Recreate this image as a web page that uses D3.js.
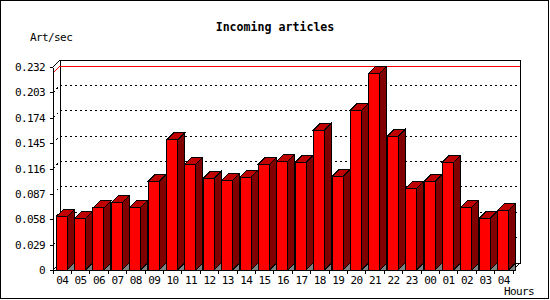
<!DOCTYPE html>
<html>
<head>
<meta charset="utf-8">
<script src="https://cdnjs.cloudflare.com/ajax/libs/d3/7.8.5/d3.min.js"></script>
<style>
  body { margin: 0; background: #fff; }
  svg text { font-family: "DejaVu Sans Mono", "Liberation Mono", monospace; fill: #000; }
</style>
</head>
<body>
<div id="chart"></div>
<script>
////////////////////////////////////////////////////////////////
// Data

var hours = ["04", "05", "06", "07", "08", "09", "10", "11", "12", "13", "14", "15",
    "16", "17", "18", "19", "20", "21", "22", "23", "00", "01", "02", "03", "04"];
var artPerSec = [0.0606, 0.0590, 0.0709, 0.0766, 0.0716, 0.1013, 0.1486, 0.1208, 0.1048,
    0.1025, 0.1060, 0.1208, 0.1242, 0.1231, 0.1600, 0.1070, 0.1825, 0.2248, 0.1528,
    0.0934, 0.1013, 0.1231, 0.0716, 0.0590, 0.0682];
var yTicks = [0, 0.029, 0.058, 0.087, 0.116, 0.145, 0.174, 0.203, 0.232];

////////////////////////////////////////////////////////////////
// Basic parameters

var svgWidth = 550;
var svgHeight = 300;
var plot = { left: 53, right: 513, top: 67, bottom: 270 };
var depth = 7;

var svg = d3.select("#chart")
    .append("svg")
    .attr("width", svgWidth)
    .attr("height", svgHeight)
    .attr("shape-rendering", "crispEdges");

// Scales
var x = d3.scaleBand()
    .domain(d3.range(hours.length))
    .range([plot.left, plot.right])
    .paddingInner(0)
    .paddingOuter(0);

var y = d3.scaleLinear()
    .domain([0, d3.max(yTicks)])
    .range([plot.bottom, plot.top]);

// frame
svg.append("rect")
    .attr("x", 0.5).attr("y", 0.5)
    .attr("width", 548).attr("height", 298)
    .attr("fill", "white")
    .attr("stroke", "black");

// title + axis labels
svg.append("text")
    .attr("x", 275).attr("y", 31)
    .attr("text-anchor", "middle")
    .style("font-size", "11.6px")
    .style("font-weight", "bold")
    .text("Incoming articles");

svg.append("text")
    .attr("x", 30).attr("y", 41)
    .style("font-size", "11px")
    .style("letter-spacing", "-0.6px")
    .text("Art/sec");

svg.append("text")
    .attr("x", 504).attr("y", 295)
    .style("font-size", "11px")
    .style("letter-spacing", "-0.6px")
    .text("Hours");

////////////////////////////////////////////////////////////////
// Back wall, grid, max line

var backLeft = plot.left + depth;
var backRight = plot.right + depth;

svg.append("rect")
    .attr("x", backLeft).attr("y", plot.top - depth)
    .attr("width", backRight - backLeft)
    .attr("height", plot.bottom - plot.top)
    .attr("fill", "white")
    .attr("stroke", "black");

// corner diagonals
[[plot.left, plot.top], [plot.left, plot.bottom], [plot.right, plot.bottom]].forEach(function (p) {
    svg.append("line")
        .attr("x1", p[0]).attr("y1", p[1])
        .attr("x2", p[0] + depth).attr("y2", p[1] - depth)
        .attr("stroke", "black");
});

var grid = svg.append("g")
    .attr("stroke", "black")
    .attr("stroke-dasharray", "2,3");

yTicks.filter(function (v) { return v > 0 && v < d3.max(yTicks); }).forEach(function (v) {
    grid.append("line")
        .attr("x1", plot.left).attr("y1", y(v))
        .attr("x2", backLeft).attr("y2", y(v) - depth);
    grid.append("line")
        .attr("x1", backLeft).attr("y1", y(v) - depth)
        .attr("x2", backRight).attr("y2", y(v) - depth);
});

// max value line
var maxY = y(d3.max(artPerSec));
svg.append("polyline")
    .attr("points", [[plot.left, maxY], [backLeft, maxY - depth], [backRight, maxY - depth]].join(" "))
    .attr("fill", "none")
    .attr("stroke", "red");

////////////////////////////////////////////////////////////////
// Axes

var leftAxis = d3.axisLeft(y)
    .tickValues(yTicks)
    .tickSize(3)
    .tickSizeOuter(0)
    .tickPadding(5)
    .tickFormat(function (d) { return d === 0 ? "0" : d3.format(".3f")(d); });

var yAxis = svg.append("g")
    .attr("transform", `translate(${plot.left}, 0)`)
    .call(leftAxis);

var bottomAxis = d3.axisBottom(x)
    .tickSize(0)
    .tickPadding(6)
    .tickFormat(function (i) { return hours[i]; });

var xAxis = svg.append("g")
    .attr("transform", `translate(0, ${plot.bottom})`)
    .call(bottomAxis);

[yAxis, xAxis].forEach(function (a) {
    a.selectAll("text")
        .style("font-family", "DejaVu Sans Mono")
        .style("font-size", "11px")
        .style("letter-spacing", "-0.6px");
    a.select(".domain").attr("stroke", "black");
});

// x ticks sit on the category boundaries
xAxis.selectAll(".bound")
    .data(d3.range(hours.length + 1))
    .enter()
    .append("line")
    .attr("x1", function (i) { return plot.left + i * x.bandwidth(); })
    .attr("x2", function (i) { return plot.left + i * x.bandwidth(); })
    .attr("y1", 0).attr("y2", 4)
    .attr("stroke", "black");

////////////////////////////////////////////////////////////////
// 3D bars

var barW = x.bandwidth() * 0.6;
var base = y(0);

var bars = svg.append("g")
    .attr("stroke", "black")
    .selectAll("g")
    .data(artPerSec)
    .enter()
    .append("g");

// floor shadow
bars.append("polygon")
    .attr("fill", "#808080")
    .attr("points", function (d, i) {
        var x1 = x(i) + 3 + barW;
        return [[x1, base], [x1 + depth, base - depth], [x1 + depth, base]].join(" ");
    });

// side
bars.append("polygon")
    .attr("fill", "#800000")
    .attr("points", function (d, i) {
        var x1 = x(i) + 3 + barW;
        return [[x1, y(d)], [x1 + depth, y(d) - depth], [x1 + depth, base - depth], [x1, base]].join(" ");
    });

// top
bars.append("polygon")
    .attr("fill", "#c00000")
    .attr("points", function (d, i) {
        var x0 = x(i) + 3;
        return [[x0, y(d)], [x0 + depth, y(d) - depth], [x0 + barW + depth, y(d) - depth], [x0 + barW, y(d)]].join(" ");
    });

// front
bars.append("rect")
    .attr("fill", "red")
    .attr("x", function (d, i) { return x(i) + 3; })
    .attr("y", function (d) { return y(d); })
    .attr("width", barW)
    .attr("height", function (d) { return base - y(d); });
</script>
</body>
</html>
